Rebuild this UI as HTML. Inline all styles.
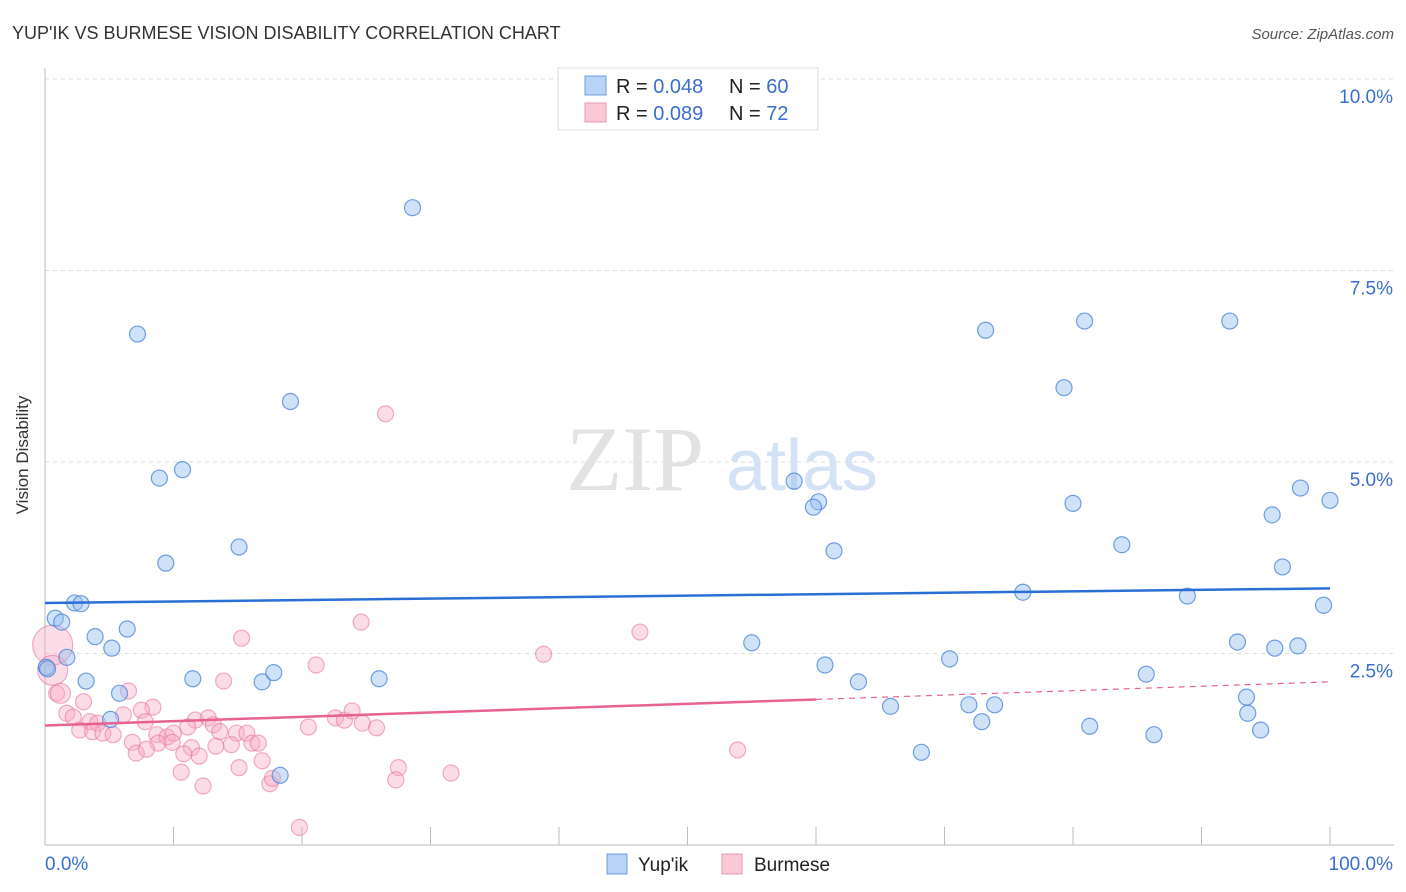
<!DOCTYPE html>
<html><head><meta charset="utf-8">
<style>
body{margin:0;background:#fff;font-family:"Liberation Sans",sans-serif;}
svg{display:block}
</style></head>
<body>
<svg id="chart" width="1406" height="892" xmlns="http://www.w3.org/2000/svg">
<text x="12" y="39" font-size="18" fill="#333">YUP'IK VS BURMESE VISION DISABILITY CORRELATION CHART</text>
<text x="1394" y="39" font-size="15" fill="#555" text-anchor="end" font-style="italic">Source: ZipAtlas.com</text>
<text x="28" y="455" font-size="17" fill="#333" text-anchor="middle" transform="rotate(-90 28 455)">Vision Disability</text>
<g>
<text x="635" y="490" font-size="92" fill="#e2e2e2" font-family="Liberation Serif,serif" text-anchor="middle">ZIP</text>
<text x="802" y="490" font-size="72" fill="#d3e2f4" text-anchor="middle">atlas</text>
</g>
<g id="grid"></g>
<g id="axes"></g>
<g id="marks"></g>
<g>
<rect x="558" y="68" width="260" height="62" fill="#fff" stroke="#ddd"/>
<rect x="585" y="76" width="21" height="19" fill="#b8d3f5" stroke="#6d9ee0"/>
<rect x="585" y="103" width="21" height="19" fill="#fbc8d8" stroke="#ec9ab5"/>
<text x="616" y="93" font-size="20" fill="#222">R = <tspan fill="#3a6fcf">0.048</tspan></text>
<text x="729" y="93" font-size="20" fill="#222">N = <tspan fill="#3a6fcf">60</tspan></text>
<text x="616" y="120" font-size="20" fill="#222">R = <tspan fill="#3a6fcf">0.089</tspan></text>
<text x="729" y="120" font-size="20" fill="#222">N = <tspan fill="#3a6fcf"> 72</tspan></text>
</g>
<g>
<rect x="607" y="854" width="20" height="20" fill="#b8d3f5" stroke="#6d9ee0"/>
<text x="638" y="871" font-size="19" fill="#222">Yup'ik</text>
<rect x="722" y="854" width="20" height="20" fill="#fbc8d8" stroke="#ec9ab5"/>
<text x="754" y="871" font-size="19" fill="#222">Burmese</text>
</g>
</svg>
<script>
const yTicks=[2.5,5,7.5,10];
const yTickLabels=["2.5%","5.0%","7.5%","10.0%"];
const xTickLabels=["0.0%","100.0%"];
const yupX=[28.6,7.2,19.1,10.7,8.9,9.4,15.1,2.3,2.8,0.8,1.3,3.9,6.4,5.2,1.7,0.1,3.2,11.5,16.9,17.8,26.0,5.8,5.1,18.3,58.3,60.2,59.8,61.4,55.0,60.7,63.3,65.8,68.2,70.4,71.9,72.9,73.9,73.2,80.9,79.3,80.0,83.8,76.1,81.3,85.7,86.3,88.9,92.2,97.7,100,95.5,96.3,99.5,92.8,95.7,97.5,93.5,93.6,94.6,0.2];
const yupY=[8.32,6.67,5.79,4.90,4.79,3.68,3.89,3.16,3.15,2.96,2.91,2.72,2.82,2.57,2.45,2.32,2.14,2.17,2.13,2.25,2.17,1.98,1.64,0.91,4.75,4.48,4.41,3.84,2.64,2.35,2.13,1.81,1.21,2.43,1.83,1.61,1.83,6.72,6.84,5.97,4.46,3.92,3.30,1.55,2.23,1.44,3.25,6.84,4.66,4.50,4.31,3.63,3.13,2.65,2.57,2.60,1.93,1.72,1.50,2.30];
const burX=[15.3,24.6,13.9,21.1,6.5,0.9,3.0,8.4,7.5,1.7,2.2,6.1,7.8,3.5,4.1,2.7,3.7,4.5,5.3,11.7,12.7,13.1,11.1,13.6,14.9,15.7,20.5,22.6,23.3,23.9,24.7,25.8,8.7,9.5,10.0,6.8,8.8,9.9,7.1,7.9,11.4,10.8,12.0,13.3,14.5,16.1,16.6,16.9,15.1,10.6,12.3,17.5,17.7,27.5,27.3,31.6,19.8,26.5,38.8,46.3,53.9,0.6,0.6,1.2];
const burY=[2.70,2.91,2.14,2.35,2.01,1.98,1.87,1.80,1.76,1.72,1.67,1.70,1.61,1.61,1.59,1.50,1.48,1.46,1.44,1.63,1.66,1.57,1.54,1.48,1.46,1.46,1.54,1.66,1.63,1.75,1.59,1.53,1.44,1.41,1.46,1.34,1.33,1.34,1.20,1.25,1.27,1.19,1.16,1.29,1.31,1.33,1.33,1.10,1.01,0.95,0.77,0.80,0.87,1.01,0.85,0.94,0.23,5.63,2.49,2.78,1.24,2.61,2.28,1.98];
const burR=[8,8,8,8,8,8,8,8,8,8,8,8,8,8,8,8,8,8,8,8,8,8,8,8,8,8,8,8,8,8,8,8,8,8,8,8,8,8,8,8,8,8,8,8,8,8,8,8,8,8,8,8,8,8,8,8,8,8,8,8,8,20,15,10];
const yupTrend=[3.16,3.35];
const burTrend=[1.56,1.90,2.13];
const X0=45,X1=1330,Y0=845,PX_PER=76.6;
const xs=v=>X0+(X1-X0)*v/100;
const ys=v=>Y0-v*PX_PER;
const NS="http://www.w3.org/2000/svg";
function mk(tag,attrs,parent){const e=document.createElementNS(NS,tag);for(const k in attrs)e.setAttribute(k,attrs[k]);parent.appendChild(e);return e;}
const grid=document.getElementById('grid'),axes=document.getElementById('axes'),marks=document.getElementById('marks');
yTicks.forEach((t,i)=>{
  const l=mk('line',{x1:45,x2:1394,y1:ys(t),y2:ys(t),stroke:'#ddd','stroke-dasharray':'4,4'},grid);
  
  
  const tx=mk('text',{x:1393,y:ys(t)+24,'font-size':19,fill:'#3a6fcf','text-anchor':'end'},axes);
  tx.textContent=yTickLabels[i];
  
  
});
const ya=mk('line',{x1:45,x2:45,y1:68,y2:845,stroke:'#bbb'},axes);


const xa=mk('line',{x1:45,x2:1394,y1:845,y2:845,stroke:'#bbb'},axes);


for(let i=0;i<=10;i++){
  const t=mk('line',{x1:xs(i*10),x2:xs(i*10),y1:827,y2:845,stroke:'#bbb'},axes);
  
  
}
const xl0=mk('text',{x:45,y:870,'font-size':19,fill:'#3a6fcf'},axes);
xl0.textContent=xTickLabels[0];


const xl1=mk('text',{x:1393,y:870,'font-size':19,fill:'#3a6fcf','text-anchor':'end'},axes);
xl1.textContent=xTickLabels[1];


burX.forEach((v,i)=>{
  const c=mk('circle',{cx:xs(v),cy:ys(burY[i]),r:burR[i],fill:'rgba(248,170,195,0.4)',stroke:'rgba(232,120,160,0.6)','stroke-width':1.2},marks);
  
  
});
yupX.forEach((v,i)=>{
  const c=mk('circle',{cx:xs(v),cy:ys(yupY[i]),r:8,fill:'rgba(150,190,240,0.45)',stroke:'rgba(70,130,215,0.75)','stroke-width':1.2},marks);
  
  
});
const bl=mk('line',{x1:xs(0),y1:ys(yupTrend[0]),x2:xs(100),y2:ys(yupTrend[1]),stroke:'#2a6fd6','stroke-width':2.5},marks);


const pl=mk('line',{x1:xs(0),y1:ys(burTrend[0]),x2:xs(60),y2:ys(burTrend[1]),stroke:'#e8628f','stroke-width':2.5},marks);


const pd=mk('line',{x1:xs(60),y1:ys(burTrend[1]),x2:xs(100),y2:ys(burTrend[2]),stroke:'#e8628f','stroke-width':1.2,'stroke-dasharray':'6,5'},marks);


</script>
</body></html>
